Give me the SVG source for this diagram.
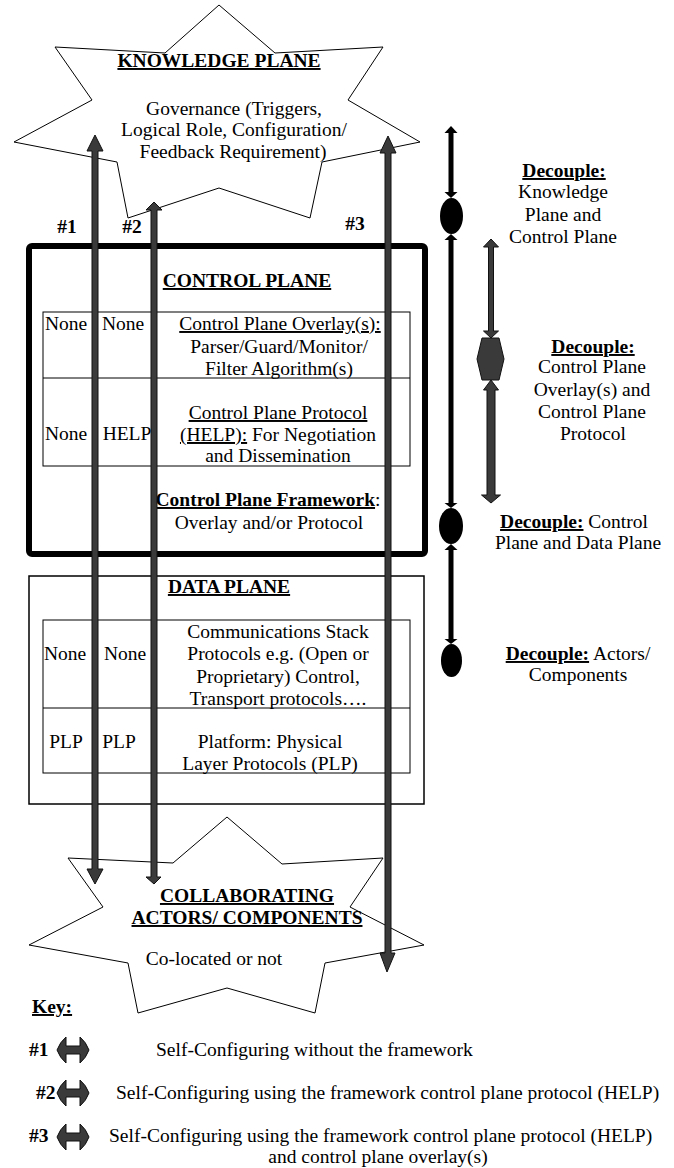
<svg xmlns="http://www.w3.org/2000/svg" width="674" height="1168" viewBox="0 0 674 1168">
<style>
text { font-family: "Liberation Serif", "Times New Roman", serif; font-size: 19.5px; fill: #000; }
.m { text-anchor: middle; }
.b { font-weight: bold; }
.u { text-decoration: underline; }
.star { fill: #fff; stroke: #000; stroke-width: 1; }
.thin { fill: none; stroke: #000; stroke-width: 1; }
.blk { fill: #3a3a3a; stroke: #111; stroke-width: 1; }
.bl { fill: #000; }
</style>
<rect width="674" height="1168" fill="#fff"/>

<g id="knowledge-plane">
  <polygon class="star" points="219,5 275,53 383,47 348,100 420,142 322,162 310,218 219,188 128,218 117,162 14,142 92,100 55,47 165,53"/>
  <text class="m b u" x="219" y="67">KNOWLEDGE PLANE</text>
  <text class="m" x="234" y="114.5">Governance (Triggers,</text>
  <text class="m" x="234" y="136">Logical Role, Configuration/</text>
  <text class="m" x="233" y="157.5">Feedback Requirement)</text>
</g>

<g id="control-plane">
  <rect x="29" y="246" width="396" height="308" rx="3" fill="none" stroke="#000" stroke-width="6"/>
  <text class="m b u" x="247" y="287">CONTROL PLANE</text>
  <rect class="thin" x="43" y="312" width="367" height="154"/>
  <line class="thin" x1="43" y1="378" x2="410" y2="378"/>
  <text class="m" x="66" y="330">None</text>
  <text class="m" x="123" y="330">None</text>
  <text class="m u" x="280" y="330">Control Plane Overlay(s):</text>
  <text class="m" x="279" y="353">Parser/Guard/Monitor/</text>
  <text class="m" x="279" y="375">Filter Algorithm(s)</text>
  <text class="m" x="66" y="440">None</text>
  <text class="m" x="127" y="440">HELP</text>
  <text class="m u" x="278" y="419">Control Plane Protocol</text>
  <text class="m" x="278" y="441"><tspan class="u">(HELP):</tspan> For Negotiation</text>
  <text class="m" x="278" y="462">and Dissemination</text>
  <text class="m" x="268" y="506"><tspan class="b u">Control Plane Framework</tspan>:</text>
  <text class="m" x="269" y="529">Overlay and/or Protocol</text>
</g>

<g id="data-plane">
  <rect x="29" y="576" width="395" height="228" fill="none" stroke="#000" stroke-width="1.5"/>
  <text class="m b u" x="229" y="593">DATA PLANE</text>
  <rect class="thin" x="43" y="620" width="367" height="153"/>
  <line class="thin" x1="43" y1="708" x2="410" y2="708"/>
  <text class="m" x="65" y="660">None</text>
  <text class="m" x="125" y="660">None</text>
  <text class="m" x="278" y="638">Communications Stack</text>
  <text class="m" x="278" y="660">Protocols e.g. (Open or</text>
  <text class="m" x="278" y="683">Proprietary) Control,</text>
  <text class="m" x="278" y="705">Transport protocols….</text>
  <text class="m" x="66" y="748">PLP</text>
  <text class="m" x="119" y="748">PLP</text>
  <text class="m" x="270" y="748">Platform: Physical</text>
  <text class="m" x="270" y="770">Layer Protocols (PLP)</text>
</g>

<g id="collaborating-actors">
  <polygon class="star" points="227,817 282,864 383,858 350,907 424,945 325,963 315,1013 227,988 138,1013 128,963 29,945 103,907 68,858 173,863"/>
  <text class="m b u" x="247" y="902">COLLABORATING</text>
  <text class="m b u" x="247" y="924">ACTORS/ COMPONENTS</text>
  <text class="m" x="214" y="965">Co-located or not</text>
</g>

<g id="connectors">
  <!-- #1 -->
  <polygon class="blk" points="95,135 103,151 98,151 98,869 103,869 95,884 87,869 92,869 92,151 87,151"/>
  <!-- #2 -->
  <polygon class="blk" points="154,202 162,210 157,210 157,877 161,877 154,884 146,877 151,877 151,210 146,210"/>
  <!-- #3 -->
  <polygon class="blk" points="388,136 396,153 391,153 391,953 395,953 387,972 380,953 385,953 385,153 380,153"/>
  <text class="m b" x="67" y="233">#1</text>
  <text class="m b" x="132" y="233">#2</text>
  <text class="m b" x="355" y="230">#3</text>

  <!-- black decouple line -->
  <rect class="bl" x="448.5" y="132" width="5" height="61"/>
  <polygon class="bl" points="451,126 457.5,133 444.5,133"/>
  <polygon class="bl" points="451,198 457.5,192 444.5,192"/>
  <ellipse class="bl" cx="451.5" cy="216" rx="11.5" ry="18"/>
  <rect class="bl" x="448.5" y="239" width="5" height="265"/>
  <polygon class="bl" points="451,234 457.5,240 444.5,240"/>
  <polygon class="bl" points="451,508 457.5,503 444.5,503"/>
  <ellipse class="bl" cx="451" cy="526" rx="12" ry="18"/>
  <rect class="bl" x="448.5" y="549" width="5" height="91"/>
  <polygon class="bl" points="451,544 457.5,550 444.5,550"/>
  <polygon class="bl" points="451,644 457.5,639 444.5,639"/>
  <ellipse class="bl" cx="451.5" cy="660.5" rx="10.5" ry="16.5"/>

  <!-- gray decouple line -->
  <polygon class="blk" points="491,239 498.5,247 493.5,247 493.5,331 498.5,331 491,338 483.5,331 488.5,331 488.5,247 483.5,247"/>
  <polygon class="blk" points="482,338 499,338 504,359 499,380 482,380 477,359"/>
  <polygon class="blk" points="491,380 498.5,390 495,390 495,495 500.5,495 491,503 481.5,495 487,495 487,390 483.5,390"/>
</g>

<g id="decouple-labels">
  <text class="m b u" x="564" y="177">Decouple:</text>
  <text class="m" x="563" y="198">Knowledge</text>
  <text class="m" x="563" y="221">Plane and</text>
  <text class="m" x="563" y="243">Control Plane</text>
  <text class="m b u" x="593" y="353">Decouple:</text>
  <text class="m" x="592" y="373">Control Plane</text>
  <text class="m" x="592" y="396">Overlay(s) and</text>
  <text class="m" x="592" y="418">Control Plane</text>
  <text class="m" x="593" y="440">Protocol</text>
  <text class="m" x="574" y="528"><tspan class="b u">Decouple:</tspan> Control</text>
  <text class="m" x="578" y="549">Plane and Data Plane</text>
  <text class="m" x="578" y="660"><tspan class="b u">Decouple:</tspan> Actors/</text>
  <text class="m" x="578" y="681">Components</text>
</g>

<g id="key">
  <text class="b u" x="32" y="1013">Key:</text>
  <text class="b" x="29" y="1056">#1</text>
  <path class="blk" d="M57,1050 Q60,1042 66,1037 L66,1046 L80,1046 L80,1037 Q86,1042 89,1050 Q86,1058 80,1063 L80,1054 L66,1054 L66,1063 Q60,1058 57,1050 Z"/>
  <text x="156" y="1056">Self-Configuring without the framework</text>
  <text class="b" x="36" y="1099">#2</text>
  <path class="blk" d="M57,1093 Q60,1085 66,1080 L66,1089 L80,1089 L80,1080 Q86,1085 89,1093 Q86,1101 80,1106 L80,1097 L66,1097 L66,1106 Q60,1101 57,1093 Z"/>
  <text x="116" y="1099">Self-Configuring using the framework control plane protocol (HELP)</text>
  <text class="b" x="29" y="1142">#3</text>
  <path class="blk" d="M57,1137 Q60,1129 66,1124 L66,1133 L80,1133 L80,1124 Q86,1129 89,1137 Q86,1145 80,1150 L80,1141 L66,1141 L66,1150 Q60,1145 57,1137 Z"/>
  <text x="109" y="1142">Self-Configuring using the framework control plane protocol (HELP)</text>
  <text class="m" x="378" y="1163">and control plane overlay(s)</text>
</g>
</svg>
